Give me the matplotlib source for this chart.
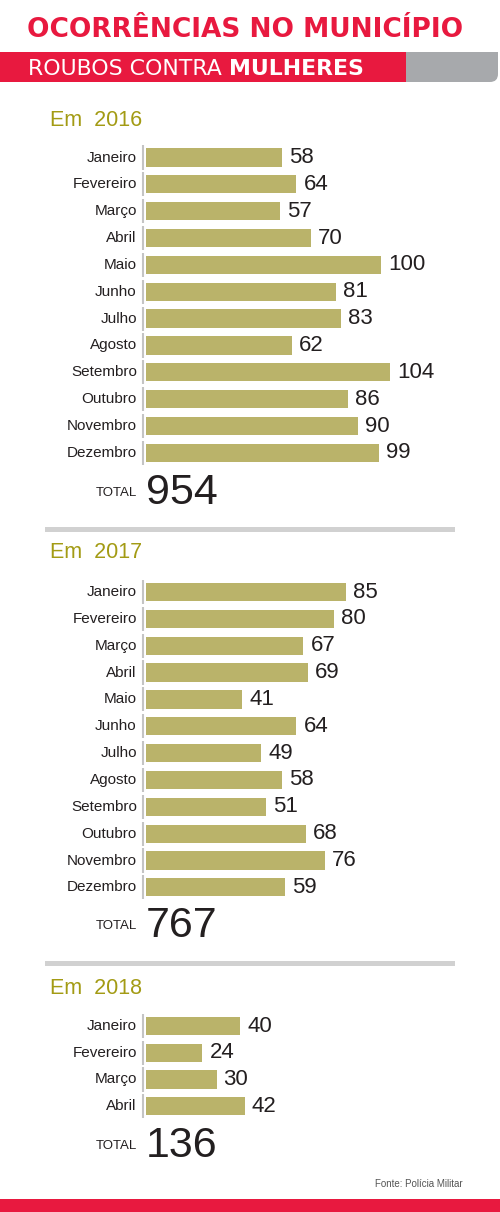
import matplotlib
matplotlib.use("Agg")
import matplotlib.pyplot as plt
import matplotlib.transforms as mtransforms
from matplotlib.patches import Rectangle, FancyBboxPatch

months_2016 = ["Janeiro", "Fevereiro", "Março", "Abril", "Maio", "Junho",
               "Julho", "Agosto", "Setembro", "Outubro", "Novembro", "Dezembro"]
values_2016 = [58, 64, 57, 70, 100, 81, 83, 62, 104, 86, 90, 99]
total_2016 = 954

months_2017 = months_2016
values_2017 = [85, 80, 67, 69, 41, 64, 49, 58, 51, 68, 76, 59]
total_2017 = 767

months_2018 = ["Janeiro", "Fevereiro", "Março", "Abril"]
values_2018 = [40, 24, 30, 42]
total_2018 = 136

W, H = 500, 1212
RED = "#E8193F"
GRAY = "#A7A9AC"
BAR = "#BAB36A"
OLIVE = "#A39B14"
DARK = "#231F20"
SANS = ["Liberation Sans", "DejaVu Sans"]

fig = plt.figure(figsize=(W / 100, H / 100), dpi=100)
# pixel coords (origin top-left) -> figure
pxT = mtransforms.Affine2D().scale(1 / W, -1 / H).translate(0, 1) + fig.transFigure


def ftext(x, y, s, **kw):
    return fig.text(x, y, s, transform=pxT, **kw)


# header
ftext(27, 30, "OCORRÊNCIAS NO MUNICÍPIO", color=RED, fontsize=19,
      fontweight="bold", family="DejaVu Sans", va="center", ha="left")
fig.add_artist(FancyBboxPatch((380, 52), 118, 30, boxstyle="round,pad=0,rounding_size=8",
                              transform=pxT, facecolor=GRAY, edgecolor="none"))
fig.add_artist(Rectangle((400, 52), 98, 14, transform=pxT, facecolor=GRAY, edgecolor="none"))
fig.add_artist(Rectangle((0, 52), 406, 30, transform=pxT, facecolor=RED, edgecolor="none"))
t1 = ftext(28, 75, "ROUBOS CONTRA", color="white", fontsize=15.8,
           family="DejaVu Sans", va="baseline", ha="left")
fig.add_artist(plt.Annotation("MULHERES", xy=(1, 0), xycoords=t1, xytext=(5, 0),
                              textcoords="offset points", color="white", fontsize=15.8,
                              fontweight="bold", family="DejaVu Sans", va="bottom", ha="left"))

# footer
fig.add_artist(Rectangle((0, 1199), W, 13, transform=pxT, facecolor=RED, edgecolor="none"))
ftext(463, 1184, "Fonte: Polícia Militar", color="#555555", fontsize=7,
      family=SANS, va="center", ha="right")

# separators
for sy in (529.5, 963.5):
    fig.add_artist(Rectangle((45, sy - 2.5), 410, 5, transform=pxT,
                             facecolor="#D1D1D1", edgecolor="none"))


def section(year, months, values, total, head_y, first_y, step, total_y):
    n = len(values)
    left, scale = 146, 2.35
    top = first_y - step / 2
    ax = fig.add_axes([left / W, 1 - (top + n * step) / H, 150 * scale / W, n * step / H])
    ax.set_xlim(0, 150)
    ax.set_ylim(n - 0.5, -0.5)
    ax.axis("off")
    ys = list(range(n))
    ax.barh(ys, values, height=0.68, color=BAR)
    ax.vlines([-1.3] * n, [y - 0.45 for y in ys], [y + 0.45 for y in ys],
              color="#C4C4C4", linewidth=1.5, clip_on=False)
    for y, m, v in zip(ys, months, values):
        ax.text(-3.9, y, m, ha="right", va="center", fontsize=11, color=DARK, family=SANS)
        ax.text(v + 3, y, str(v), ha="left", va="center", fontsize=16, color=DARK, family=SANS)
    ftext(50, head_y, "Em  %d" % year, color=OLIVE, fontsize=15.5, family=SANS,
          va="center", ha="left")
    ftext(137, total_y, "TOTAL", color=DARK, fontsize=9.5, family=SANS,
          va="center", ha="right")
    ftext(146, total_y, str(total), color=DARK, fontsize=31, family=SANS,
          va="center", ha="left")


section(2016, months_2016, values_2016, total_2016, 120, 157.5, 26.85, 493)
section(2017, months_2017, values_2017, total_2017, 553, 592, 26.85, 926)
section(2018, months_2018, values_2018, total_2018, 988, 1026, 26.75, 1146)

fig.savefig("out.png", dpi=100)
